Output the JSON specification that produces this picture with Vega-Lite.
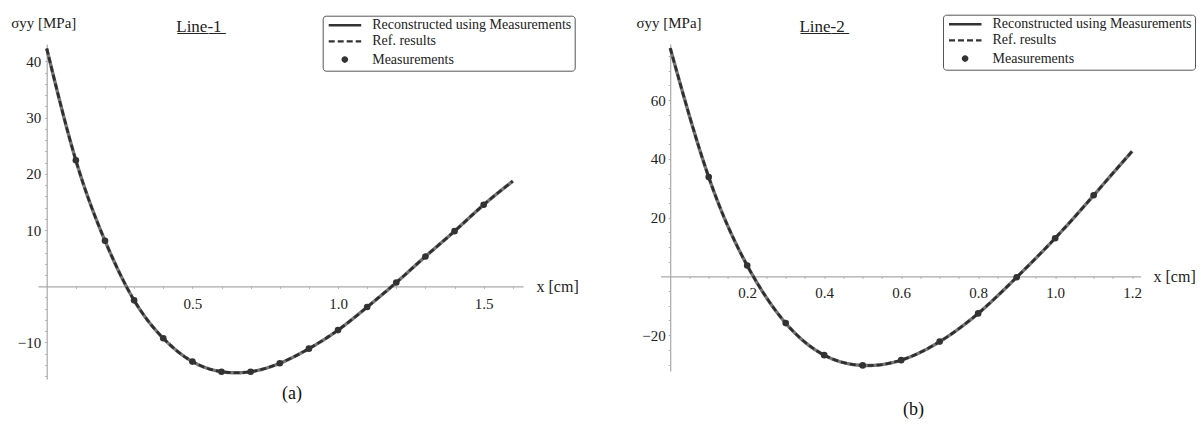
{
  "$schema": "https://vega.github.io/schema/vega-lite/v6.json",
  "padding": {"left": 10, "top": 14, "right": 0, "bottom": 0},
  "background": "white",
  "bounds": "flush",
  "spacing": 137.6,
  "config": {
    "view": {"stroke": null},
    "font": "Liberation Serif",
    "axis": {
      "grid": false,
      "domainColor": "#a9a9a9",
      "domainWidth": 1.2,
      "tickColor": "#b0b0b0",
      "tickSize": 2,
      "labelOverlap": false,
      "labelFlush": false,
      "labelFont": "Liberation Serif",
      "labelFontSize": 15,
      "labelColor": "#222222",
      "titleFont": "Liberation Serif",
      "titleFontWeight": "normal",
      "titleColor": "#222222",
      "titleFontSize": 16
    },
    "legend": {
      "labelFont": "Liberation Serif",
      "labelFontSize": 14,
      "labelColor": "#222222",
      "labelLimit": 400
    },
    "title": {"font": "Liberation Serif", "fontWeight": "normal", "color": "#111"}
  },
  "datasets": {
    "curve1": [
      {"x": 0.0, "y": 42.3}, {"x": 0.1, "y": 22.4}, {"x": 0.2, "y": 8.1}, {"x": 0.3, "y": -2.5},
      {"x": 0.4, "y": -9.25}, {"x": 0.5, "y": -13.4}, {"x": 0.6, "y": -15.2}, {"x": 0.7, "y": -15.2},
      {"x": 0.8, "y": -13.7}, {"x": 0.9, "y": -11.1}, {"x": 1.0, "y": -7.8}, {"x": 1.1, "y": -3.7},
      {"x": 1.2, "y": 0.66}, {"x": 1.3, "y": 5.3}, {"x": 1.4, "y": 9.8}, {"x": 1.5, "y": 14.5},
      {"x": 1.6, "y": 18.7}
    ],
    "meas1": [
      {"x": 0.1, "y": 22.4}, {"x": 0.2, "y": 8.1}, {"x": 0.3, "y": -2.5},
      {"x": 0.4, "y": -9.25}, {"x": 0.5, "y": -13.4}, {"x": 0.6, "y": -15.2}, {"x": 0.7, "y": -15.2},
      {"x": 0.8, "y": -13.7}, {"x": 0.9, "y": -11.1}, {"x": 1.0, "y": -7.8}, {"x": 1.1, "y": -3.7},
      {"x": 1.2, "y": 0.66}, {"x": 1.3, "y": 5.3}, {"x": 1.4, "y": 9.8}, {"x": 1.5, "y": 14.5}
    ],
    "curve2": [
      {"x": 0.0, "y": 77.7}, {"x": 0.1, "y": 33.8}, {"x": 0.2, "y": 3.7}, {"x": 0.3, "y": -15.9},
      {"x": 0.4, "y": -26.8}, {"x": 0.5, "y": -30.3}, {"x": 0.6, "y": -28.5}, {"x": 0.7, "y": -22.2},
      {"x": 0.8, "y": -12.6}, {"x": 0.9, "y": -0.3}, {"x": 1.0, "y": 13.0}, {"x": 1.1, "y": 27.6},
      {"x": 1.2, "y": 42.6}
    ],
    "meas2": [
      {"x": 0.1, "y": 33.8}, {"x": 0.2, "y": 3.7}, {"x": 0.3, "y": -15.9},
      {"x": 0.4, "y": -26.8}, {"x": 0.5, "y": -30.3}, {"x": 0.6, "y": -28.5}, {"x": 0.7, "y": -22.2},
      {"x": 0.8, "y": -12.6}, {"x": 0.9, "y": -0.3}, {"x": 1.0, "y": 13.0}, {"x": 1.1, "y": 27.6}
    ]
  },
  "resolve": {"scale": {"strokeDash": "independent"}, "legend": {"strokeDash": "independent"}},
  "hconcat": [
    {
      "width": 485,
      "height": 335,
      "title": {"text": "(a)", "orient": "bottom", "anchor": "start", "frame": "group", "dx": 244, "offset": 5, "fontSize": 18},
      "resolve": {"axis": {"x": "independent", "y": "independent"}},
      "layer": [
        {
          "data": {"name": "curve1"},
          "mark": {"type": "line", "interpolate": "natural", "color": "#767676", "strokeWidth": 3.4},
          "encoding": {
            "x": {"field": "x", "type": "quantitative", "scale": {"domain": [-0.03, 1.635], "nice": false, "zero": false},
              "axis": {"orient": "bottom", "offset": -92.6,
                "values": [0.5, 1.0, 1.5],
                "format": ".1f",
                "labelPadding": 8,
                "title": "x [cm]", "titleX": 498, "titleY": 0, "titleAlign": "left", "titleBaseline": "middle", "titleAngle": 0}},
            "y": {"field": "y", "type": "quantitative", "scale": {"domain": [-16.5, 43.1], "nice": false, "zero": false},
              "axis": {"orient": "left", "offset": -8.7,
                "values": [-10, 10, 20, 30, 40],
                "format": "d",
                "labelPadding": 4,
                "title": "σyy [MPa]", "titleAngle": 0, "titleX": -36, "titleY": -17, "titleAlign": "left", "titleBaseline": "alphabetic", "titleFontSize": 15}},
            "strokeDash": {"datum": "Reconstructed using Measurements", "type": "nominal",
              "scale": {"domain": ["Reconstructed using Measurements", "Ref. results", "Measurements"], "range": [[1, 0], [6, 3], [1, 0]]},
              "legend": {"orient": "none", "legendX": 284.7, "legendY": -28.3, "title": null,
                "strokeColor": "#555", "cornerRadius": 3, "padding": 2.5, "fillColor": "white",
                "symbolType": "stroke", "symbolSize": 100, "symbolStrokeWidth": 2.4, "symbolStrokeColor": "#333",
                "labelOffset": 33, "rowPadding": 2.2,
                "encode": {"symbols": {"update": {
                  "shape": {"signal": "datum.value === 'Measurements' ? 'M1.86,0A0.66,0.66,0,1,1,3.18,0A0.66,0.66,0,1,1,1.86,0Z' : 'M-0.7,0H5.8'"},
                  "size": {"value": 100},
                  "fill": {"signal": "datum.value === 'Measurements' ? '#333' : 'transparent'"},
                  "stroke": {"signal": "datum.value === 'Measurements' ? 'transparent' : '#333'"},
                  "strokeDash": {"signal": "datum.value === 'Ref. results' ? [8, 4.5] : [1, 0]"}
                }}}}}
          }
        },
        {
          "data": {"name": "curve1"},
          "mark": {"type": "line", "interpolate": "natural", "color": "#2e2e2e", "strokeWidth": 2.6},
          "encoding": {
            "x": {"field": "x", "type": "quantitative",
              "axis": {"orient": "bottom", "offset": -92.6, "domain": false, "labels": false, "title": null,
                "values": [0.1,0.2,0.3,0.4,0.6,0.7,0.8,0.9,1.1,1.2,1.3,1.4,1.6]}},
            "y": {"field": "y", "type": "quantitative",
              "axis": {"orient": "left", "offset": -8.7, "domain": false, "labels": false, "title": null,
                "values": [-16,-14,-12,-8,-6,-4,-2,2,4,6,8,12,14,16,18,22,24,26,28,32,34,36,38,42]}},
            "strokeDash": {"datum": "Ref. results", "type": "nominal"}
          }
        },
        {
          "data": {"name": "meas1"},
          "mark": {"type": "circle", "size": 44, "color": "#333", "opacity": 1},
          "encoding": {
            "x": {"field": "x", "type": "quantitative",
              "axis": {"orient": "top", "domain": false, "ticks": false, "labels": false,
                "title": "L̲i̲n̲e̲-̲1̲", "titleX": 160.4, "titleY": -12.5, "titleAlign": "center", "titleBaseline": "alphabetic", "titleFontSize": 17, "titleColor": "#222"}},
            "y": {"field": "y", "type": "quantitative", "axis": null}
          }
        }
      ]
    },
    {
      "width": 480,
      "height": 327,
      "title": {"text": "(b)", "orient": "bottom", "anchor": "start", "frame": "group", "dx": 242.4, "offset": 29, "fontSize": 18},
      "resolve": {"axis": {"x": "independent", "y": "independent"}},
      "layer": [
        {
          "data": {"name": "curve2"},
          "mark": {"type": "line", "interpolate": "natural", "color": "#767676", "strokeWidth": 3.4},
          "encoding": {
            "x": {"field": "x", "type": "quantitative", "scale": {"domain": [-0.025, 1.222], "nice": false, "zero": false},
              "axis": {"orient": "bottom", "offset": -94.6,
                "values": [0.2, 0.4, 0.6, 0.8, 1.0, 1.2],
                "format": ".1f",
                "labelPadding": 7,
                "title": "x [cm]", "titleX": 492.4, "titleY": 0, "titleAlign": "left", "titleBaseline": "middle", "titleAngle": 0}},
            "y": {"field": "y", "type": "quantitative", "scale": {"domain": [-32.2, 79.1], "nice": false, "zero": false},
              "axis": {"orient": "left", "offset": -9.6,
                "values": [-20, 20, 40, 60],
                "format": "d",
                "labelPadding": 3,
                "title": "σyy [MPa]", "titleAngle": 0, "titleX": -34.3, "titleY": -17, "titleAlign": "left", "titleBaseline": "alphabetic", "titleFontSize": 15}},
            "strokeDash": {"datum": "Reconstructed using Measurements", "type": "nominal",
              "scale": {"domain": ["Reconstructed using Measurements", "Ref. results", "Measurements"], "range": [[1, 0], [6, 3], [1, 0]]},
              "legend": {"orient": "none", "legendX": 282.4, "legendY": -29.3, "title": null,
                "strokeColor": "#555", "cornerRadius": 3, "padding": 2.5, "fillColor": "white",
                "symbolType": "stroke", "symbolSize": 100, "symbolStrokeWidth": 2.4, "symbolStrokeColor": "#333",
                "labelOffset": 33, "rowPadding": 2.2,
                "encode": {"symbols": {"update": {
                  "shape": {"signal": "datum.value === 'Measurements' ? 'M1.86,0A0.66,0.66,0,1,1,3.18,0A0.66,0.66,0,1,1,1.86,0Z' : 'M-0.7,0H5.8'"},
                  "size": {"value": 100},
                  "fill": {"signal": "datum.value === 'Measurements' ? '#333' : 'transparent'"},
                  "stroke": {"signal": "datum.value === 'Measurements' ? 'transparent' : '#333'"},
                  "strokeDash": {"signal": "datum.value === 'Ref. results' ? [8, 4.5] : [1, 0]"}
                }}}}}
          }
        },
        {
          "data": {"name": "curve2"},
          "mark": {"type": "line", "interpolate": "natural", "color": "#2e2e2e", "strokeWidth": 2.6},
          "encoding": {
            "x": {"field": "x", "type": "quantitative",
              "axis": {"orient": "bottom", "offset": -94.6, "domain": false, "labels": false, "title": null,
                "values": [0.05,0.1,0.15,0.25,0.3,0.35,0.45,0.5,0.55,0.65,0.7,0.75,0.85,0.9,0.95,1.05,1.1,1.15]}},
            "y": {"field": "y", "type": "quantitative",
              "axis": {"orient": "left", "offset": -9.6, "domain": false, "labels": false, "title": null,
                "values": [-30,-25,-15,-10,-5,5,10,15,25,30,35,45,50,55,65,70,75]}},
            "strokeDash": {"datum": "Ref. results", "type": "nominal"}
          }
        },
        {
          "data": {"name": "meas2"},
          "mark": {"type": "circle", "size": 44, "color": "#333", "opacity": 1},
          "encoding": {
            "x": {"field": "x", "type": "quantitative",
              "axis": {"orient": "top", "domain": false, "ticks": false, "labels": false,
                "title": "L̲i̲n̲e̲-̲2̲", "titleX": 161, "titleY": -12.5, "titleAlign": "center", "titleBaseline": "alphabetic", "titleFontSize": 17, "titleColor": "#222"}},
            "y": {"field": "y", "type": "quantitative", "axis": null}
          }
        }
      ]
    }
  ]
}
